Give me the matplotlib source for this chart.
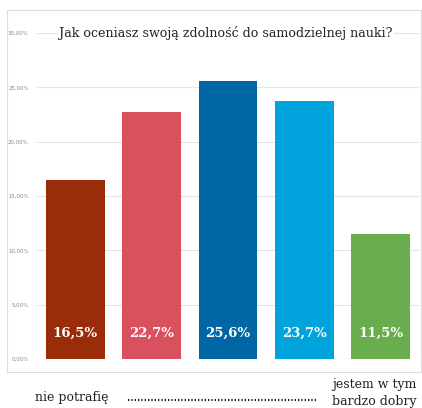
import matplotlib.pyplot as plt
from matplotlib.patches import Rectangle
from matplotlib.lines import Line2D
from matplotlib.ticker import FuncFormatter

values = [16.5, 22.7, 25.6, 23.7, 11.5]
labels = ['16,5%', '22,7%', '25,6%', '23,7%', '11,5%']
colors = ['#9b2c0a', '#d9505f', '#0066a4', '#00a3dc', '#69ad4f']
title = 'Jak oceniasz swoją zdolność do samodzielnej nauki?'
left_label = 'nie potrafię'
right_label = 'jestem w tym\nbardzo dobry'

SERIF = 'DejaVu Serif'

W, H = 422, 408
fig = plt.figure(figsize=(W / 100, H / 100), dpi=100)
ax = fig.add_axes([37 / W, 1 - 359 / H, (419 - 37) / W, (359 - 33) / H])

x = range(len(values))
ax.bar(x, values, width=0.77, color=colors, zorder=3)
for i, (v, lab) in enumerate(zip(values, labels)):
    ax.text(i, 2.4, lab, ha='center', va='center', color='white',
            fontsize=9.5, fontweight='bold', family=SERIF, zorder=4)

ax.set_xlim(-0.5, 4.5)
ax.set_ylim(0, 30)
ax.set_yticks(range(0, 31, 5))
ax.yaxis.set_major_formatter(FuncFormatter(lambda v, p: f'{v:.2f}%'.replace('.', ',')))
ax.tick_params(axis='y', labelsize=3.9, labelcolor='#888888', length=0, pad=6)
ax.tick_params(axis='x', bottom=False, labelbottom=False)
ax.grid(axis='y', color='#e3e3e3', lw=0.8, zorder=0)
for s in ax.spines.values():
    s.set_visible(False)

fig.text(226 / W, 1 - 33 / H, title, ha='center', va='center',
         fontsize=9.1, family=SERIF, color='#222222',
         bbox=dict(facecolor='white', edgecolor='none', pad=1))

# frame around the chart
fig.add_artist(Rectangle((7 / W, 1 - 372 / H), (W - 8) / W, (372 - 10) / H,
                         transform=fig.transFigure, fill=False,
                         edgecolor='#dddddd', lw=0.8))

fig.text(35 / W, 1 - 398 / H, left_label, ha='left', va='center',
         fontsize=9, family=SERIF, color='#222222')
fig.add_artist(Line2D([128 / W, 318 / W], [1 - 400 / H, 1 - 400 / H],
                      transform=fig.transFigure, color='#222222',
                      lw=1.6, linestyle=(0, (0.6, 0.9))))
fig.text(332 / W, 1 - 393 / H, right_label, ha='left', va='center',
         fontsize=9, family=SERIF, color='#222222', linespacing=1.4)

fig.savefig('out.png', dpi=100)
